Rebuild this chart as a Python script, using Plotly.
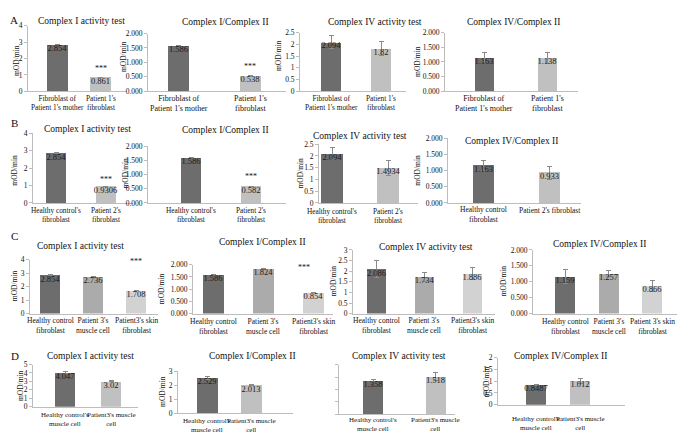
import plotly.graph_objects as go

W, H = 685, 434
FONT = "Liberation Serif"

# ---------------- data ----------------
cats_A = ["Fibroblast of<br>Patient 1's mother", "Patient 1's<br>fibroblast"]
cats_B = ["Healthy control's<br>fibroblast", "Patient 2's<br>fibroblast"]
cats_B4 = ["Healthy control<br>fibroblast", "Patient 2's fibroblast"]
cats_C = ["Healthy control<br>fibroblast", "Patient 3's<br>muscle cell", "Patient3's skin<br>fibroblast"]
cats_C4 = ["Healthy control<br>fibroblast", "Patient 3's<br>muscle cell", "Patient 3's skin<br>fibroblast"]
cats_D = ["Healthy control's<br>muscle cell", "Patient3's muscle<br>cell"]

title_CI = "Complex I activity test"
title_CI_CII = "Complex I/Complex II"
title_CIV = "Complex IV activity test"
title_CIV_CII = "Complex IV/Complex II"

vals_A1 = [2.854, 0.861];  err_A1 = [0.02, 0.01];  sig_A1 = ["", "***"]
vals_A2 = [1.586, 0.538];  err_A2 = [0.01, 0.005]; sig_A2 = ["", "***"]
vals_A3 = [2.094, 1.82];   err_A3 = [0.27, 0.3];   sig_A3 = ["", ""]
vals_A4 = [1.163, 1.138];  err_A4 = [0.15, 0.2];   sig_A4 = ["", ""]

vals_B1 = [2.854, 0.9306]; err_B1 = [0.02, 0.01];  sig_B1 = ["", "***"]
vals_B2 = [1.586, 0.582];  err_B2 = [0.01, 0.01];  sig_B2 = ["", "***"]
vals_B3 = [2.094, 1.4934]; err_B3 = [0.25, 0.32];  sig_B3 = ["", ""]
vals_B4 = [1.163, 0.933];  err_B4 = [0.15, 0.21];  sig_B4 = ["", ""]

vals_C1 = [2.854, 2.736, 1.708]; err_C1 = [0.02, 0.02, 0.02];  sig_C1 = ["", "", "***"]
vals_C2 = [1.586, 1.824, 0.854]; err_C2 = [0.01, 0.01, 0.01];  sig_C2 = ["", "", "***"]
vals_C3 = [2.086, 1.734, 1.886]; err_C3 = [0.4, 0.2, 0.27];    sig_C3 = ["", "", ""]
vals_C4 = [1.159, 1.257, 0.866]; err_C4 = [0.22, 0.1, 0.17];   sig_C4 = ["", "", ""]

vals_D1 = [4.047, 3.02];   err_D1 = [0.15, 0.06]; sig_D1 = ["", ""]
vals_D2 = [2.529, 2.013];  err_D2 = [0.1, 0.05];  sig_D2 = ["", ""]
vals_D3 = [1.358, 1.518];  err_D3 = [0.05, 0.15]; sig_D3 = ["", ""]
vals_D4 = [0.8487, 1.012]; err_D4 = [0.02, 0.1];  sig_D4 = ["", ""]

row_letters = ["A", "B", "C", "D"]

# ---------------- layout specs (pixels) ----------------
C2 = ["#6d6d6d", "#c0c0c0"]
C3 = ["#6d6d6d", "#ababab", "#d2d2d2"]

panels = [
    dict(c=cats_A, v=vals_A1, e=err_A1, s=sig_A1, t=title_CI, ymax=4, dt=1, fmt="", box=(20, 118, 14, 81), cen=(49, 92.5), bw=21, tp=(73, 9), yt=(9, 50), col=C2, ss=(0, 2), ly=89, lf=7.3),
    dict(c=cats_A, v=vals_A2, e=err_A2, s=sig_A2, t=title_CI_CII, ymax=2, dt=0.5, fmt=".3f", box=(140, 278, 22, 81), cen=(170.5, 242), bw=21, tp=(217, 10), yt=(115, 45), col=C2, ss=(0, 3), ly=89, lf=8),
    dict(c=cats_A, v=vals_A3, e=err_A3, s=sig_A3, t=title_CIV, ymax=2.5, dt=0.5, fmt="", box=(292, 398, 21, 81), cen=(323, 373), bw=20, tp=(367, 10), yt=(270, 45), col=C2, ss=(0, 2), ly=89, lf=7.3),
    dict(c=cats_A, v=vals_A4, e=err_A4, s=sig_A4, t=title_CIV_CII, ymax=2, dt=0.5, fmt=".3f", box=(437, 570, 21, 81), cen=(476, 539), bw=19, tp=(505, 10), yt=(410, 51), col=C2, ss=(0, 2), ly=89, lf=8),

    dict(c=cats_B, v=vals_B1, e=err_B1, s=sig_B1, t=title_CI, ymax=4, dt=1, fmt="", box=(25, 125, 124, 195), cen=(48, 97.5), bw=20, tp=(79, 119), yt=(7, 162), col=C2, ss=(0, 1), ly=203, lf=7.3),
    dict(c=cats_B, v=vals_B2, e=err_B2, s=sig_B2, t=title_CI_CII, ymax=2, dt=0.5, fmt=".3f", box=(140, 278, 137, 195), cen=(183, 243), bw=20, tp=(217, 120), yt=(118, 165), col=C2, ss=(0, 3), ly=203, lf=7.3),
    dict(c=cats_B, v=vals_B3, e=err_B3, s=sig_B3, t=title_CIV, ymax=2.5, dt=0.5, fmt="", box=(311, 410, 135, 195), cen=(324, 380), bw=22, tp=(352, 127), yt=(293, 165), col=C2, ss=(0, 2), ly=204, lf=7.3),
    dict(c=cats_B4, v=vals_B4, e=err_B4, s=sig_B4, t=title_CIV_CII, ymax=2, dt=0.5, fmt=".3f", box=(440, 573, 129, 195), cen=(475.5, 541.5), bw=21, tp=(503, 132), yt=(410, 162), col=C2, ss=(0, 2), ly=203, lf=7.5),

    dict(c=cats_C, v=vals_C1, e=err_C1, s=sig_C1, t=title_CI, ymax=4, dt=1, fmt="", box=(22, 150, 253, 308), cen=(42, 128), bw=20, tp=(72, 239), yt=(6, 280), col=C3, ss=(0, 22), ly=316, lf=7.5),
    dict(c=cats_C, v=vals_C2, e=err_C2, s=sig_C2, t=title_CI_CII, ymax=2, dt=0.5, fmt=".3f", box=(185, 325, 258, 308), cen=(205, 305), bw=21, tp=(254, 235), yt=(153, 283), col=C3, ss=(-9, 18), ly=317, lf=7.5),
    dict(c=cats_C, v=vals_C3, e=err_C3, s=sig_C3, t=title_CIV, ymax=3, dt=0.5, fmt="", box=(345, 487, 243, 308), cen=(368.5, 464), bw=19, tp=(418, 240), yt=(325, 275), col=C3, ss=(0, 2), ly=316, lf=7.5),
    dict(c=cats_C4, v=vals_C4, e=err_C4, s=sig_C4, t=title_CIV_CII, ymax=2, dt=0.5, fmt=".3f", box=(525, 677, 243, 308), cen=(557, 644), bw=20, tp=(591, 237), yt=(495, 275), col=C3, ss=(0, 2), ly=317, lf=7.5),

    dict(c=cats_D, v=vals_D1, e=err_D1, s=sig_D1, t=title_CI, ymax=5, dt=1, fmt="", box=(25, 130, 360, 403), cen=(57, 103), bw=20, tp=(82, 351), yt=(12, 382), col=C2, ss=(0, 2), ly=412, lf=7),
    dict(c=cats_D, v=vals_D2, e=err_D2, s=sig_D2, t=title_CI_CII, ymax=3, dt=1, fmt="", box=(170, 285, 367, 410), cen=(199, 243), bw=21, tp=(244, 351), yt=(155, 388), col=C2, ss=(0, 2), ly=418, lf=7),
    dict(c=cats_D, v=vals_D3, e=err_D3, s=sig_D3, t=title_CIV, ymax=2, dt=0.5, fmt="", box=(331, 447, 360, 411), cen=(365, 427.5), bw=20, tp=(391, 351), yt=None, col=C2, ss=(0, 2), noticks=True, ly=417, lf=7),
    dict(c=cats_D, v=vals_D4, e=err_D4, s=sig_D4, t=title_CIV_CII, ymax=2, dt=0.5, fmt="", box=(490, 617, 353, 401), cen=(528, 572), bw=20, tp=(552, 351), yt=(478, 377), col=C2, ss=(0, 2), ly=416, lf=7),
]
letter_pos = [(6, 8), (6, 113), (6, 229), (7, 351)]

def px(x):
    return x / W

def py(y):
    return 1 - y / H

fig = go.Figure()
annotations = []
layout = {}

for i, p in enumerate(panels, start=1):
    xa = "x" if i == 1 else f"x{i}"
    ya = "y" if i == 1 else f"y{i}"
    n = len(p["c"])
    left, right, top, bottom = p["box"]
    c0, c1 = p["cen"]
    u = (c1 - c0) / (n - 1)
    xr = [-(c0 - left) / u, (n - 1) + (right - c1) / u]

    fig.add_trace(go.Bar(
        x=p["c"], y=p["v"], xaxis=xa, yaxis=ya,
        marker=dict(color=p["col"], line=dict(width=0)),
        width=p["bw"] / u,
        error_y=dict(type="data", array=p["e"], color="#8a8a8a", thickness=1, width=2.5),
        showlegend=False, hoverinfo="skip",
    ))
    fig.add_trace(go.Scatter(
        x=p["c"], y=p["v"], xaxis=xa, yaxis=ya, mode="text",
        text=[str(v) for v in p["v"]], textposition="bottom center",
        textfont=dict(family=FONT, size=8.5, color="#1a1a1a"),
        showlegend=False, hoverinfo="skip",
    ))

    xkey = "xaxis" if i == 1 else f"xaxis{i}"
    ykey = "yaxis" if i == 1 else f"yaxis{i}"
    layout[xkey] = dict(
        domain=[px(left), px(right)], anchor=ya, type="category", range=xr,
        showline=True, linecolor="#bdbdbd", linewidth=1, ticks="", showticklabels=False,
        showgrid=False, zeroline=False, fixedrange=True,
    )
    layout[ykey] = dict(
        domain=[py(bottom), py(top)], anchor=xa, range=[0, p["ymax"]], dtick=p["dt"], tick0=0,
        tickformat=p["fmt"], showline=True, linecolor="#bdbdbd", linewidth=1,
        ticks="outside", ticklen=3, tickcolor="#bdbdbd",
        showticklabels=not p.get("noticks", False),
        tickfont=dict(family=FONT, size=7.5, color="#111"), showgrid=False, zeroline=False, fixedrange=True,
    )

    # category labels under the bars; ly = centre of the first line
    for k, cat in enumerate(p["c"]):
        yc = p["ly"] + 4 if "<br>" in cat else p["ly"]
        annotations.append(dict(text=cat, x=k, y=py(yc), xref=xa, yref="paper",
                                xanchor="center", yanchor="middle", showarrow=False, align="center",
                                borderpad=0,
                                font=dict(family=FONT, size=p["lf"], color="#111")))

    annotations.append(dict(text=p["t"], x=px(p["tp"][0]), y=py(p["tp"][1]), xref="paper", yref="paper",
                            xanchor="center", yanchor="middle", showarrow=False,
                            font=dict(family=FONT, size=9.5, color="#111")))
    if p["yt"] is not None:
        annotations.append(dict(text="mOD/min", x=px(p["yt"][0]), y=py(p["yt"][1]), xref="paper", yref="paper",
                                xanchor="center", yanchor="middle", showarrow=False, textangle=-90,
                                font=dict(family=FONT, size=7.5, color="#111")))
    for k, s in enumerate(p["s"]):
        if s:
            annotations.append(dict(text=s, x=k, y=p["v"][k] + p["e"][k], xref=xa, yref=ya,
                                    xanchor="center", yanchor="bottom", showarrow=False,
                                    xshift=p["ss"][0], yshift=p["ss"][1],
                                    font=dict(family=FONT, size=8, color="#111")))

for letter, (lx, ly) in zip(row_letters, letter_pos):
    annotations.append(dict(text=letter, x=px(lx), y=py(ly), xref="paper", yref="paper",
                            xanchor="center", yanchor="middle", showarrow=False,
                            font=dict(family=FONT, size=11, color="#111")))

fig.update_layout(
    width=W, height=H, margin=dict(l=0, r=0, t=0, b=0),
    paper_bgcolor="white", plot_bgcolor="white",
    annotations=annotations, bargap=0, **layout,
)

fig.write_html("out.html")
